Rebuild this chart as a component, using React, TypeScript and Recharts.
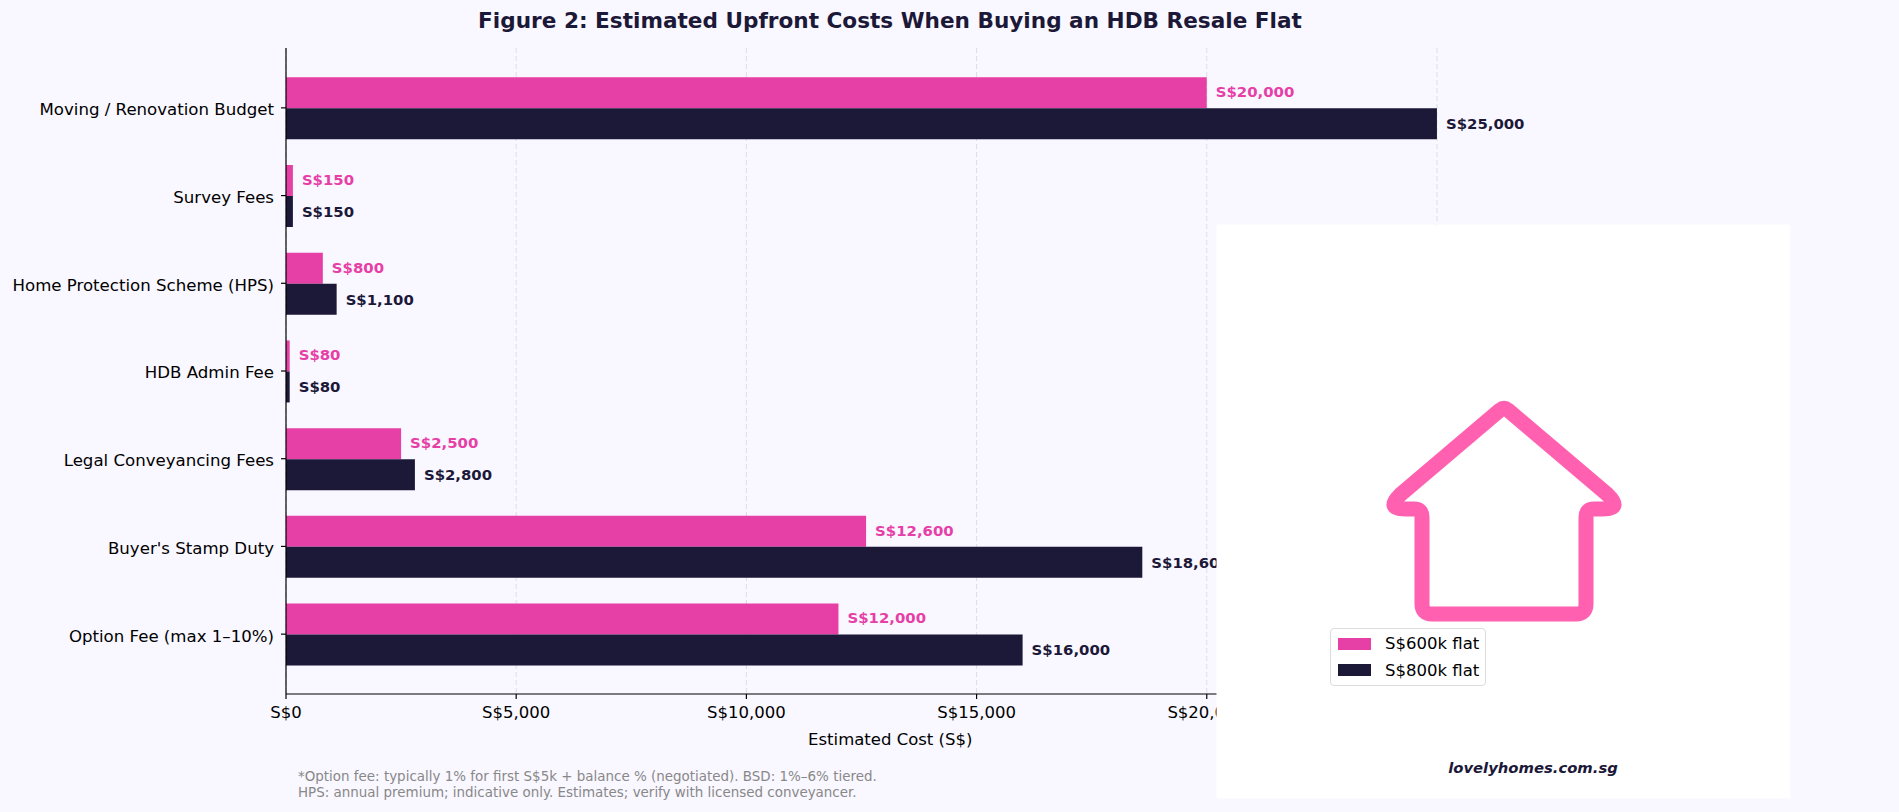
import { BarChart, Bar, XAxis, YAxis, CartesianGrid, LabelList, Legend } from "recharts";

const categories = [
  "Moving / Renovation Budget",
  "Survey Fees",
  "Home Protection Scheme (HPS)",
  "HDB Admin Fee",
  "Legal Conveyancing Fees",
  "Buyer's Stamp Duty",
  "Option Fee (max 1–10%)",
];
const flat600k = [20000, 150, 800, 80, 2500, 12600, 12000];
const flat800k = [25000, 150, 1100, 80, 2800, 18600, 16000];
const xTicks = [0, 5000, 10000, 15000, 20000, 25000];
const footnotes = [
  "*Option fee: typically 1% for first S$5k + balance % (negotiated). BSD: 1%–6% tiered.",
  "HPS: annual premium; indicative only. Estimates; verify with licensed conveyancer.",
];

const PINK = "#e63fa6";
const NAVY = "#1c1838";
const BG = "#f9f7ff";
const FONT = "'DejaVu Sans', sans-serif";

const data = categories.map((name, i) => ({ name, flat600k: flat600k[i], flat800k: flat800k[i] }));
const money = (v: number) => "S$" + v.toLocaleString("en-US");

function LegendBox({ payload }: any) {
  return (
    <div
      style={{
        width: 156,
        height: 58,
        boxSizing: "border-box",
        background: "#fff",
        border: "1.5px solid #dcdcdc",
        borderRadius: 4,
        padding: "1.5px 0 0 7px",
        fontFamily: FONT,
        fontSize: 16.5,
        color: "#000",
      }}
    >
      {(payload ?? []).map((p: any) => (
        <div key={p.value} style={{ display: "flex", alignItems: "center", height: 26.5 }}>
          <span style={{ width: 33, height: 12, background: p.color, marginRight: 14 }} />
          {p.value}
        </div>
      ))}
    </div>
  );
}

export default function App() {
  return (
    <div style={{ position: "absolute", left: 0, top: 0, width: 1899, height: 812, background: BG, overflow: "hidden" }}>
      <div
        style={{
          position: "absolute",
          left: 0,
          width: 1780,
          top: 9,
          textAlign: "center",
          fontFamily: FONT,
          fontWeight: 700,
          fontSize: 21.6,
          lineHeight: "24px",
          color: NAVY,
        }}
      >
        Figure 2: Estimated Upfront Costs When Buying an HDB Resale Flat
      </div>
      <BarChart
        width={1899}
        height={812}
        data={data}
        layout="vertical"
        margin={{ top: 48, right: 404.5, bottom: 4, left: 0 }}
        barCategoryGap={13.3}
        barGap={0}
      >
        <CartesianGrid horizontal={false} stroke="#dfdce6" strokeDasharray="5 3" syncWithTicks />
        <XAxis
          type="number"
          domain={[0, 26250]}
          ticks={xTicks}
          tickFormatter={money}
          height={56}
          stroke="#000"
          strokeWidth={1.2}
          tick={{ fill: "#000", fontSize: 16.5, fontFamily: FONT }}
          tickSize={5}
          tickMargin={7}
          label={{ value: "Estimated Cost (S$)", position: "insideBottom", offset: 5.5, fill: "#000", fontSize: 16.5, fontFamily: FONT }}
        />
        <YAxis
          type="category"
          dataKey="name"
          width={286}
          padding={{ top: 16, bottom: 16 }}
          stroke="#000"
          strokeWidth={1.2}
          interval={0}
          tick={{ fill: "#000", fontSize: 16.6, fontFamily: FONT, dy: 1.5 }}
          tickSize={5}
          tickMargin={7}
        />
        <Bar dataKey="flat600k" name="S$600k flat" fill={PINK} isAnimationActive={false}>
          <LabelList dataKey="flat600k" position="right" offset={9} dy={-1} formatter={money} fill={PINK} fontSize={14.9} fontWeight={700} fontFamily={FONT} />
        </Bar>
        <Bar dataKey="flat800k" name="S$800k flat" fill={NAVY} isAnimationActive={false}>
          <LabelList dataKey="flat800k" position="right" offset={9} dy={0} formatter={money} fill={NAVY} fontSize={14.9} fontWeight={700} fontFamily={FONT} />
        </Bar>
        <Legend
          content={<LegendBox />}
          layout="vertical"
          wrapperStyle={{ left: 1330, top: 628, width: 156, height: 58, zIndex: 2 }}
        />
      </BarChart>
      {/* logo panel sits over the right of the plot, legend stays above it */}
      <svg width={1899} height={812} style={{ position: "absolute", left: 0, top: 0, zIndex: 1, pointerEvents: "none" }}>
        <rect x={1216.5} y={224.5} width={574} height={574} fill="#fff" />
        <path
          d="M1400.2 494.8 L1500 410 Q1504 406.8 1508 410 L1607.8 494.8 Q1622.6 509 1602.6 509 L1594 509 Q1586 509 1586 517 L1586 604 Q1586 614 1576 614 L1432 614 Q1422 614 1422 604 L1422 517 Q1422 509 1414 509 L1405.4 509 Q1385.4 509 1400.2 494.8 Z"
          fill="none"
          stroke="#ff60b0"
          strokeWidth={15}
          strokeLinejoin="round"
        />
        <text x={1533} y={773} textAnchor="middle" fontFamily={FONT} fontWeight={700} fontStyle="italic" fontSize={14.8} fill={NAVY}>
          lovelyhomes.com.sg
        </text>
      </svg>
      <div
        style={{
          position: "absolute",
          left: 298,
          top: 769,
          fontFamily: FONT,
          fontSize: 13.45,
          lineHeight: "16px",
          color: "#888",
          whiteSpace: "pre",
        }}
      >
        {footnotes.join("\n")}
      </div>
    </div>
  );
}
